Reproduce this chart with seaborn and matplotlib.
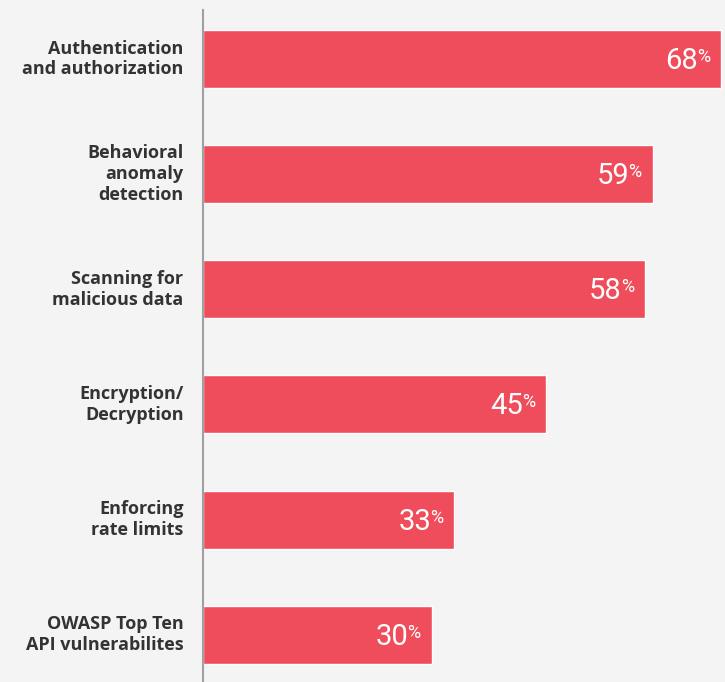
import matplotlib
matplotlib.use("Agg")
import matplotlib.pyplot as plt
import seaborn as sns
import pandas as pd

categories = [
    "Authentication\nand authorization",
    "Behavioral\nanomaly\ndetection",
    "Scanning for\nmalicious data",
    "Encryption/\nDecryption",
    "Enforcing\nrate limits",
    "OWASP Top Ten\nAPI vulnerabilites",
]
values = [68, 59, 58, 45, 33, 30]

df = pd.DataFrame({"category": categories, "value": values})

BG = "#F4F4F4"
BAR = "#EF4D5B"

sns.set_theme(style="white")
plt.rcParams["font.family"] = ["Open Sans", "DejaVu Sans"]

fig = plt.figure(figsize=(7.25, 6.82), dpi=100, facecolor=BG)
ax = fig.add_axes([203 / 725, 0.0, 1 - 203 / 725, 672 / 682])
ax.set_facecolor(BG)

sns.barplot(data=df, x="value", y="category", orient="h", color=BAR,
            saturation=1, width=0.503, ax=ax)

ax.set_xlim(0, 68.5)
ax.set_ylim(5.41, -0.425)
ax.set_xlabel("")
ax.set_ylabel("")
ax.set_xticks([])
ax.tick_params(axis="y", length=0, pad=14)
for lbl in ax.get_yticklabels():
    lbl.set_fontweight("bold")
    lbl.set_fontsize(13)
    lbl.set_color("#333333")
    lbl.set_linespacing(1.2)
    lbl.set_va("center")

for s in ["top", "right", "bottom"]:
    ax.spines[s].set_visible(False)
ax.spines["left"].set_color("#A0A0A0")
ax.spines["left"].set_linewidth(1.5)

for i, v in enumerate(values):
    ax.annotate(str(v), xy=(v, i), xytext=(-23, -2), textcoords="offset pixels",
                ha="right", va="center", color="white", fontsize=21,
                family=["Roboto", "DejaVu Sans"], fontweight="normal")
    ax.annotate("%", xy=(v, i), xytext=(-11, 11), textcoords="offset pixels",
                ha="right", va="top", color="white", fontsize=13,
                family=["Roboto", "DejaVu Sans"], fontweight="normal")

fig.savefig("out.png", dpi=100, facecolor=BG)
